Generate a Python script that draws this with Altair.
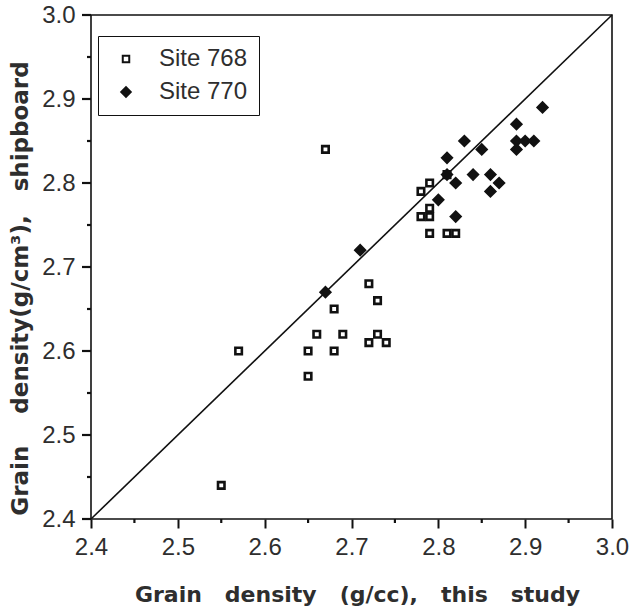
import altair as alt
import pandas as pd

# Site 768 (open squares)
x768 = [2.67, 2.55, 2.57, 2.65, 2.65, 2.66, 2.68, 2.68, 2.69, 2.72, 2.73, 2.72, 2.73, 2.74,
        2.78, 2.79, 2.79, 2.78, 2.79, 2.79, 2.81, 2.82, 2.81]
y768 = [2.84, 2.44, 2.60, 2.60, 2.57, 2.62, 2.65, 2.60, 2.62, 2.68, 2.66, 2.61, 2.62, 2.61,
        2.79, 2.80, 2.77, 2.76, 2.76, 2.74, 2.74, 2.74, 2.81]
# Site 770 (filled diamonds)
x770 = [2.71, 2.67, 2.80, 2.81, 2.82, 2.82, 2.83, 2.85, 2.84, 2.86, 2.86, 2.87, 2.89,
        2.89, 2.90, 2.91, 2.89, 2.92, 2.81]
y770 = [2.72, 2.67, 2.78, 2.83, 2.80, 2.76, 2.85, 2.84, 2.81, 2.81, 2.79, 2.80, 2.87,
        2.85, 2.85, 2.85, 2.84, 2.89, 2.81]

sites = ["Site 768", "Site 770"]
line_pts = [2.4, 3.0]
major_ticks = [2.4, 2.5, 2.6, 2.7, 2.8, 2.9, 3.0]
minor_ticks = [2.45, 2.55, 2.65, 2.75, 2.85, 2.95]

df = pd.DataFrame({
    "x": x768 + x770,
    "y": y768 + y770,
    "site": [sites[0]] * len(x768) + [sites[1]] * len(x770),
})
line_df = pd.DataFrame({"x": line_pts, "y": line_pts})
major_df = pd.DataFrame({"v": major_ticks})
minor_df = pd.DataFrame({"v": minor_ticks})

FONT = "Liberation Sans"
TFONT = "DejaVu Sans"
INK = "#111111"
TXT = "#2e2e2e"
NB = "\u00a0"
W, H = 521, 504

xscale = alt.Scale(domain=[2.4, 3.0], nice=False, zero=False)
yscale = alt.Scale(domain=[2.4, 3.0], nice=False, zero=False)

xaxis = alt.Axis(values=major_ticks, format=".1f", grid=False, ticks=True, tickSize=9,
                 tickWidth=2, tickColor=INK, tickOpacity=1,
                 domain=False, labelFontSize=24,
                 labelColor=TXT, labelFont=FONT, labelPadding=7, labelFlush=False,
                 labelOverlap=False,
                 title="Grain" + NB * 3 + "density" + NB * 3 + "(g/cc)," + NB * 3 + "this" + NB * 3 + "study",
                 titleFont=TFONT, titleFontSize=22, titleFontWeight="bold",
                 titleColor=TXT, titleX=266, titleY=75, titleAlign="center", titleBaseline="middle")
yaxis = alt.Axis(values=major_ticks, format=".1f", grid=False, ticks=False, tickSize=0,
                 domain=False, labelFontSize=24,
                 labelColor=TXT, labelFont=FONT, labelPadding=16, labelFlush=False,
                 labelOverlap=False,
                 title="Grain" + NB * 4 + "density(g/cm\u00b3)," + NB * 3 + "shipboard",
                 titleFont=TFONT, titleFontSize=23, titleFontWeight="bold",
                 titleColor=TXT, titleX=-71, titleY=273, titleBaseline="middle")

legend = alt.Legend(title=None, orient="none", legendX=7, legendY=21,
                    strokeColor=INK, padding=11, symbolOffset=5,
                    labelFontSize=24, labelFont=FONT, labelColor=TXT,
                    labelOffset=21, rowPadding=9, symbolStrokeWidth=2,
                    labelExpr="datum.label + '" + NB * 5 + "\u2003\u2003'")

line = alt.Chart(line_df).mark_line(color=INK, strokeWidth=1.6).encode(
    x=alt.X("x:Q", scale=xscale, axis=xaxis),
    y=alt.Y("y:Q", scale=yscale, axis=yaxis),
)

# axis ticks drawn through the shared scales
ytick_major = alt.Chart(major_df).mark_rule(color=INK, strokeWidth=2.2, opacity=1).encode(
    y=alt.Y("v:Q", scale=yscale, axis=yaxis), x=alt.value(-9), x2=alt.value(0))
ytick_minor = alt.Chart(minor_df).mark_rule(color=INK, strokeWidth=2.2, opacity=1).encode(
    y=alt.Y("v:Q", scale=yscale, axis=yaxis), x=alt.value(-4), x2=alt.value(0))
xtick_minor = alt.Chart(minor_df).mark_rule(color=INK, strokeWidth=2.2, opacity=1).encode(
    x=alt.X("v:Q", scale=xscale, axis=xaxis), y=alt.value(H), y2=alt.value(H + 4))

points = alt.Chart(df).mark_point(filled=False, strokeWidth=2.6, opacity=1).encode(
    x=alt.X("x:Q", scale=xscale, axis=xaxis),
    y=alt.Y("y:Q", scale=yscale, axis=yaxis),
    shape=alt.Shape("site:N", scale=alt.Scale(domain=sites, range=["square", "diamond"]),
                    legend=legend),
    fill=alt.Fill("site:N", scale=alt.Scale(domain=sites, range=["white", INK]), legend=legend),
    stroke=alt.Stroke("site:N", scale=alt.Scale(domain=sites, range=[INK, INK]), legend=legend),
    size=alt.Size("site:N", scale=alt.Scale(domain=sites, range=[42, 90]), legend=legend),
)

chart = alt.layer(line, ytick_major, ytick_minor, xtick_minor, points).properties(
    width=W, height=H,
    autosize=alt.AutoSizeParams(type="none"),
    padding={"left": 91, "top": 15, "right": 22, "bottom": 88},
).configure_view(stroke=INK, strokeWidth=1.6)

chart.save("out.html", embed_options={"renderer": "svg", "actions": False})
